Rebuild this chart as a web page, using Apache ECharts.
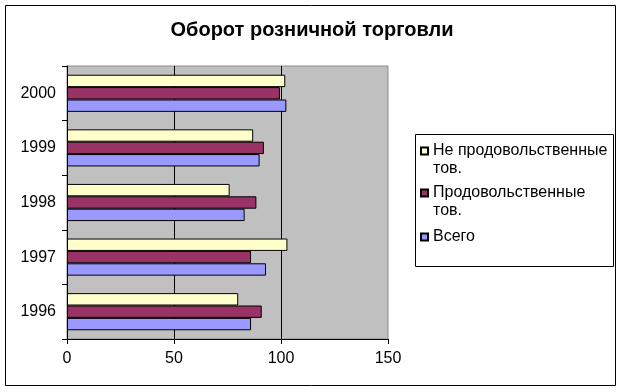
<!DOCTYPE html>
<html>
<head>
<meta charset="utf-8">
<script src="https://cdn.jsdelivr.net/npm/echarts@6/dist/echarts.min.js"></script>
<style>
html,body{margin:0;padding:0;background:#fff;}
#c{width:624px;height:392px;}
</style>
</head>
<body>
<div id="c"></div>
<script>
var titleText = 'Оборот розничной торговли';
var years = ['1996', '1997', '1998', '1999', '2000'];
var seriesNames = ['Не продовольственные тов.', 'Продовольственные тов.', 'Всего'];
var nonFood = [80, 103, 76, 87, 102];
var food = [91, 86, 88.5, 92, 99.5];
var total = [86, 93, 83, 90, 102.5];
var xTicks = [0, 50, 100, 150];

var colors = ['#FFFFCC', '#993366', '#9999FF'];
var values = [nonFood, food, total];
var FONT = '"Liberation Sans", Arial, sans-serif';

var chart = echarts.init(document.getElementById('c'), null, {renderer: 'canvas'});

var series = seriesNames.map(function (n, i) {
  return {
    name: n,
    type: 'bar',
    data: values[i],
    barGap: '0%',
    barCategoryGap: '32%',
    itemStyle: {color: colors[i], borderColor: '#000', borderWidth: 1},
    animation: false
  };
});

function legendFor(i, top, twoLine) {
  return {
    data: [{name: seriesNames[i]}],
    left: 420,
    top: top,
    orient: 'vertical',
    padding: 0,
    itemWidth: 7,
    itemHeight: twoLine ? 25 : 7,
    itemGap: 0,
    icon: twoLine ? 'path://M0,0L7,0L7,7L0,7Z M0,25L0,25' : 'rect',
    symbolKeepAspect: false,
    selectedMode: false,
    formatter: function (name) { return name.replace(' тов.', '\nтов.'); },
    textStyle: {fontFamily: FONT, fontSize: 16, color: '#000', lineHeight: 18}
  };
}

chart.setOption({
  animation: false,
  title: {
    text: titleText,
    left: 'center',
    top: 20,
    padding: 0,
    textStyle: {fontFamily: FONT, fontSize: 20, fontWeight: 'bold', color: '#000'}
  },
  graphic: [
    {type: 'rect', shape: {x: 5.5, y: 5.5, width: 610, height: 380}, style: {fill: 'none', stroke: '#000', lineWidth: 1}, z: -10},
    {type: 'rect', shape: {x: 415.5, y: 134.5, width: 198, height: 132}, style: {fill: '#fff', stroke: '#000', lineWidth: 1}, z: -5}
  ],
  legend: [
    legendFor(0, 142, true),
    legendFor(1, 184, true),
    legendFor(2, 228, false)
  ],
  grid: {
    left: 67, right: 236, top: 66, bottom: 53,
    show: true, backgroundColor: '#C0C0C0', borderColor: '#8a8a8a', borderWidth: 1
  },
  xAxis: {
    type: 'value',
    min: 0, max: 150, interval: 50,
    axisLine: {show: true, lineStyle: {color: '#000', width: 1}},
    axisTick: {show: true, length: 5, lineStyle: {color: '#000'}},
    axisLabel: {fontFamily: FONT, fontSize: 16, color: '#000', margin: 12,
      formatter: function (v) { return xTicks.indexOf(v) >= 0 ? String(v) : ''; }},
    splitLine: {show: true, showMinLine: false, showMaxLine: false, lineStyle: {color: '#000', width: 1}}
  },
  yAxis: {
    type: 'category',
    data: years,
    axisLine: {show: true, lineStyle: {color: '#000', width: 1}},
    axisTick: {show: true, length: 5, lineStyle: {color: '#000'}},
    axisLabel: {fontFamily: FONT, fontSize: 16, color: '#000', margin: 11},
    splitLine: {show: false}
  },
  series: series
});
</script>
</body>
</html>
